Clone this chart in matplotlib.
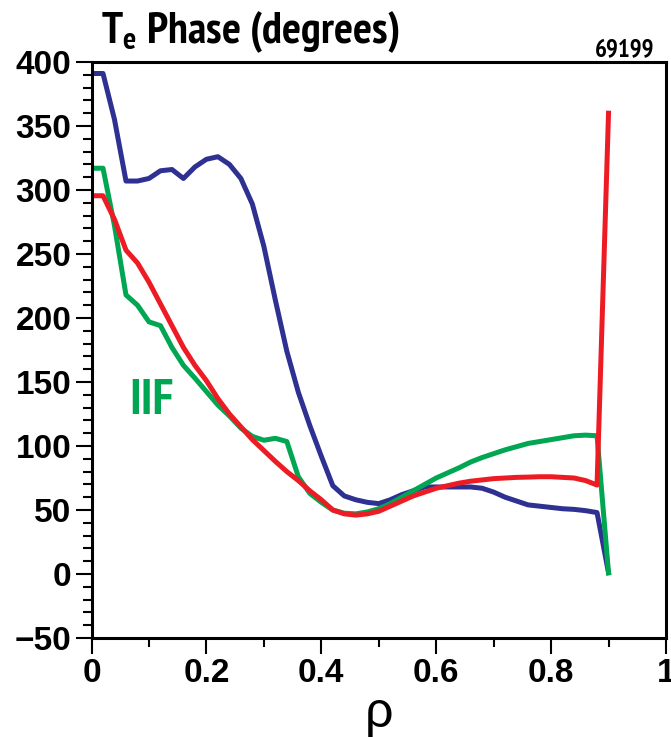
import os
import matplotlib
matplotlib.use('Agg')
import matplotlib.pyplot as plt
from matplotlib import font_manager as fm
from matplotlib.font_manager import FontProperties
from matplotlib.ticker import MultipleLocator, FuncFormatter

# radial grid (rho)
rho = [0.00, 0.02, 0.04, 0.06, 0.08, 0.10, 0.12, 0.14, 0.16, 0.18,
       0.20, 0.22, 0.24, 0.26, 0.28, 0.30, 0.32, 0.34, 0.36, 0.38,
       0.40, 0.42, 0.44, 0.46, 0.48, 0.50, 0.52, 0.54, 0.56, 0.58,
       0.60, 0.62, 0.64, 0.66, 0.68, 0.70, 0.72, 0.74, 0.76, 0.78,
       0.80, 0.82, 0.84, 0.86, 0.88, 0.90]

phase_blue = [391, 391, 355, 307, 307, 309, 315, 316, 309, 318,
              324, 326, 320, 309, 289, 256, 214, 174, 142, 116,
              92, 69, 61, 58, 56, 55, 58, 62, 65, 68,
              68, 68, 68, 68, 67, 64, 60, 57, 54, 53,
              52, 51, 50.5, 49.5, 48, 1]

phase_green = [317, 317, 272, 218, 210, 197, 194, 177, 163, 153,
               142.5, 132, 123.5, 114, 107.5, 104.5, 106, 103.5, 76, 63,
               56, 50, 47.5, 47, 48.5, 51, 55, 60, 65, 70,
               75, 79, 83, 87.5, 91, 94, 97, 99.5, 102, 103.5,
               105, 106.5, 108, 108.5, 108, 1]

phase_red = [295.5, 295.5, 277, 253, 243, 228, 211, 194, 177, 163,
             151, 137, 125, 115, 105, 96.5, 88, 80, 73, 65,
             58, 50, 47, 46, 47, 49, 53, 57, 61, 64,
             67, 69, 71, 72.5, 73.5, 74.5, 75, 75.5, 75.7, 76,
             76, 75.5, 75, 73, 69.5, 360]

# look for a narrow bold face (Arial Narrow look-alike)
narrow_file = None
best = 99
for f in fm.fontManager.ttflist:
    fn = os.path.basename(f.fname).lower()
    if 'italic' in fn or 'oblique' in fn or 'bold' not in fn:
        continue
    if 'narrow' in fn:
        rank = 0
    elif 'condensed' in fn:
        rank = 1
    else:
        continue
    if rank < best:
        best = rank
        narrow_file = f.fname

def narrow_font(size):
    if narrow_file:
        return FontProperties(fname=narrow_file, size=size)
    return FontProperties(family=['Liberation Sans', 'DejaVu Sans'], weight='bold', size=size * 0.9)

def tick_font(size):
    return FontProperties(family=['Liberation Sans', 'DejaVu Sans'], weight='bold', size=size)

plt.rcParams['mathtext.default'] = 'regular'

fig = plt.figure(figsize=(6.71, 7.37), dpi=100)
ax = fig.add_axes([0.1364, 0.1343, 0.8561, 0.7816])

lw = 3.6
ax.plot(rho, phase_blue, color='#2E3192', lw=lw)
ax.plot(rho, phase_green, color='#00A651', lw=lw)
ax.plot(rho, phase_red, color='#ED1C24', lw=lw)

ax.set_xlim(0, 1)
ax.set_ylim(-50, 400)
ax.xaxis.set_major_locator(MultipleLocator(0.2))
ax.xaxis.set_minor_locator(MultipleLocator(0.1))
ax.yaxis.set_major_locator(MultipleLocator(50))
ax.yaxis.set_minor_locator(MultipleLocator(10))
ax.xaxis.set_major_formatter(FuncFormatter(lambda v, p: '%g' % round(v, 1)))

for s in ax.spines.values():
    s.set_linewidth(2.2)
ax.tick_params(which='both', direction='out', top=False, right=False, width=1.5, pad=3)
ax.tick_params(which='major', length=11.5)
ax.tick_params(which='minor', length=6.5)
for lab in ax.get_xticklabels() + ax.get_yticklabels():
    lab.set_fontproperties(tick_font(24))

ax.set_xlabel('\u03c1', fontsize=36, fontweight='normal',
              family=['Liberation Sans', 'DejaVu Sans'], va='baseline')
ax.xaxis.set_label_coords(0.5, -0.155)

ax.text(0.065, 125, 'IIF', color='#00A651', fontproperties=narrow_font(36))

fig.text(0.1505, 0.9417, r'T$_{e}$ Phase (degrees)', fontproperties=narrow_font(32), va='baseline')
fig.text(0.9747, 0.924, '69199', fontproperties=narrow_font(18), ha='right', va='baseline')

fig.savefig('out.png', dpi=100)
